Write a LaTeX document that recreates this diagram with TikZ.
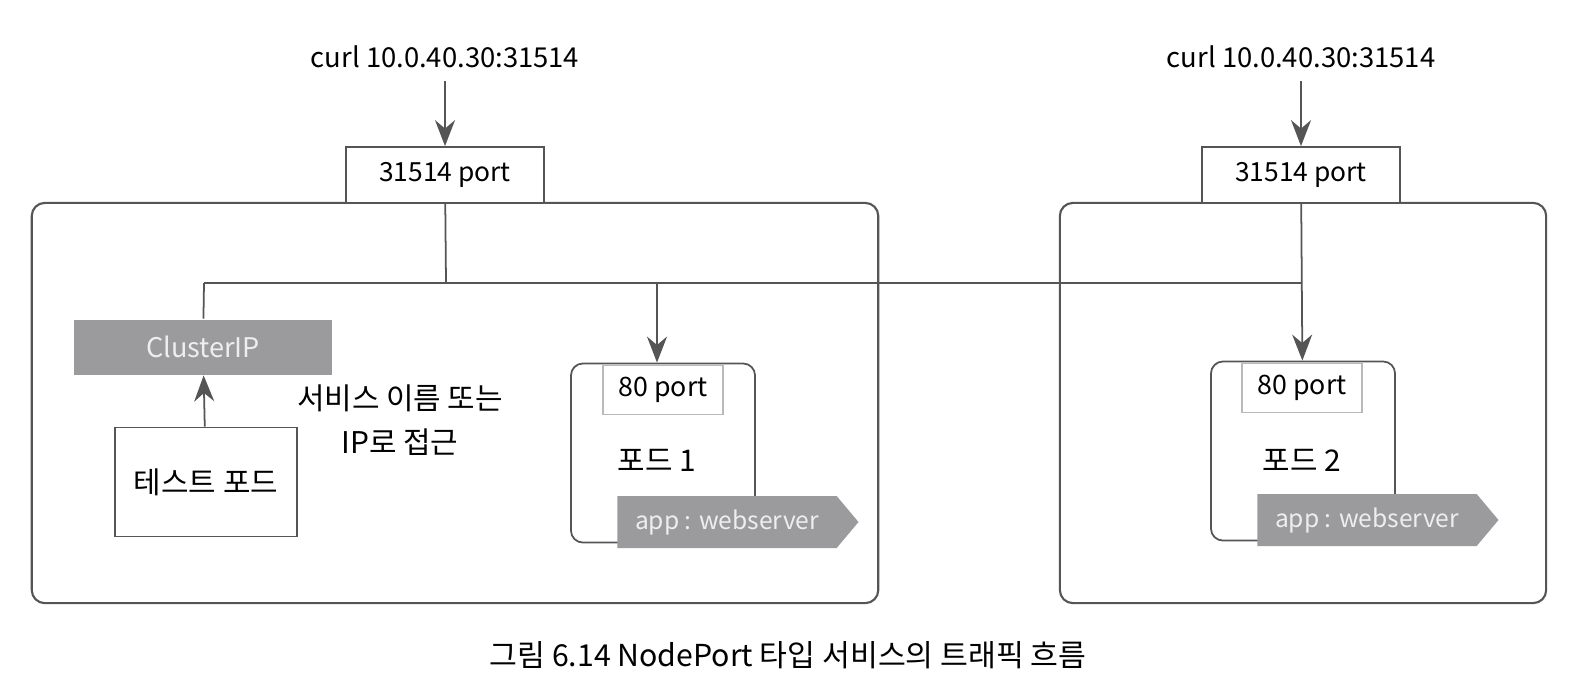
\documentclass[tikz,border=0pt]{standalone}
\usepackage{fontspec}
\setmainfont{Noto Sans CJK KR}
\usetikzlibrary{shapes,arrows.meta}
\definecolor{linegray}{RGB}{85,85,85}
\definecolor{boxgray}{RGB}{155,155,158}
\definecolor{lighttext}{RGB}{238,238,238}
\definecolor{portgray}{RGB}{185,185,185}
\tikzset{
	nodebox/.style  = {draw=linegray, rectangle, rounded corners=0.13cm, line width=0.6pt},
	podbox/.style   = {draw=linegray, rectangle, rounded corners=0.12cm, minimum width=1.84cm,
		minimum height=1.79cm},
	nport/.style    = {draw=linegray, rectangle, fill=white, minimum width=1.98cm,
		minimum height=0.56cm, font=\fontsize{7.5}{9}\selectfont},
	pport/.style    = {draw=portgray, rectangle, fill=white, minimum width=1.2cm,
		minimum height=0.49cm, font=\fontsize{7.6}{9}\selectfont},
	svc/.style      = {rectangle, fill=boxgray, text=lighttext, minimum width=2.58cm,
		minimum height=0.55cm, font=\fontsize{7.7}{9}\selectfont},
	applabel/.style = {signal, signal to=east, signal pointer angle=100, fill=boxgray,
		text=lighttext, minimum width=2.41cm, minimum height=0.52cm, inner sep=0pt,
		font=\fontsize{7}{8}\selectfont},
	plain/.style    = {draw=linegray, rectangle, minimum width=1.82cm, minimum height=1.09cm},
	curl/.style     = {font=\fontsize{7.8}{9}\selectfont}
}
\newcommand{\portlbl}[1]{#1 port}

\begin{document}
\begin{tikzpicture}[x=0.01cm, y=-0.01cm, line width=0.5pt, draw=linegray,
	>={Stealth[length=2.6mm, width=2mm]}, font=\fontsize{8.5}{10.5}\selectfont]
\useasboundingbox (0,0) rectangle (1592,690);
\draw
% the two worker nodes
node at (455,403)[nodebox, minimum width=8.46cm, minimum height=4cm] (n1) {}
node at (1303,403)[nodebox, minimum width=4.86cm, minimum height=4cm] (n2) {}
node at (445,57)[curl] (c1) {curl 10.0.40.30:31514}
node at (1301,57)[curl] (c2) {curl 10.0.40.30:31514}
node at (445,175)[nport] (np1) {\portlbl{31514}}
node at (1301,175)[nport] (np2) {\portlbl{31514}}
% services and pods
node at (203,347)[svc] (cip) {ClusterIP}
node at (206,482)[plain] (test) {테스트 포드}
node at (400,420)[align=center] (note) {서비스 이름 또는\\[2pt]IP로 접근}
node at (663,453)[podbox] (pod1) {}
node at (663,390)[pport] (pp1) {\portlbl{80}}
node at (657,460) (t1) {포드 1}
node at (727,522)[applabel] (l1) {app : webserver}
node at (1303,451)[podbox] (pod2) {}
node at (1302,388)[pport] (pp2) {\portlbl{80}}
node at (1302,460) (t2) {포드 2}
node at (1367,520)[applabel] (l2) {app : webserver}
node at (788,655)[font=\fontsize{8.6}{10}\selectfont] (cap) {그림 6.14 NodePort 타입 서비스의 트래픽 흐름};

\coordinate (jc) at (204,283);
\coordinate (j1) at (446,283);
\coordinate (jp) at (657,283);
\coordinate (j2) at (1301,283);

\draw[->](c1) -- (np1);
\draw[->](c2) -- (np2);
\draw(np1) -- (j1);
\draw(jc) -- (j2);
\draw(jc) -- (cip);
\draw[->](jp) -- (jp |- pod1.north);
\draw[->](np2) -- (pod2);
\draw[->](test) -- (cip);
\end{tikzpicture}
\end{document}
